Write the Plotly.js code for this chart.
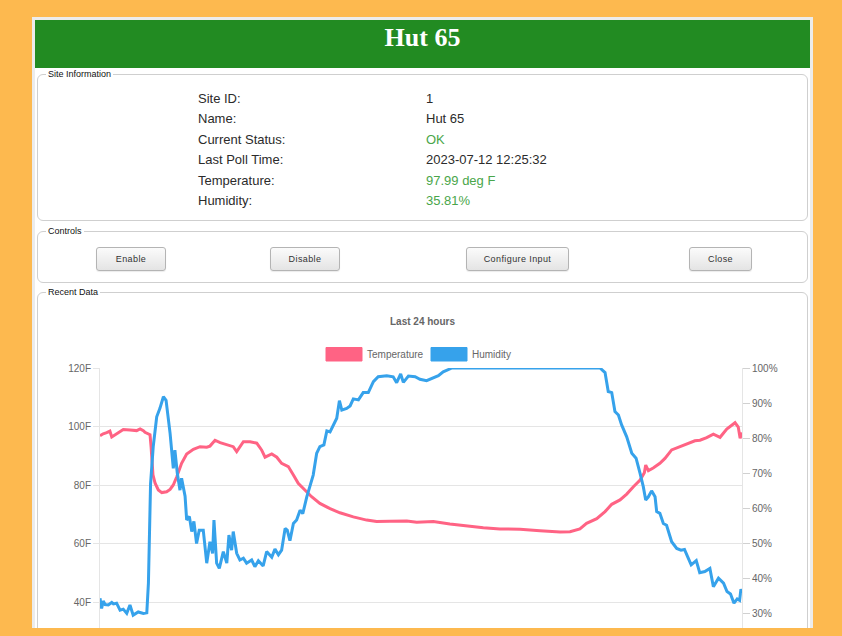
<!DOCTYPE html>
<html>
<head>
<meta charset="utf-8">
<script src="https://cdn.plot.ly/plotly-3.0.1.min.js"></script>
<style>
  html, body { margin:0; padding:0; }
  body { width:842px; height:636px; overflow:hidden; background:#fdb94f; position:relative;
         font-family:"Liberation Sans", Arial, sans-serif; }
  .abs { position:absolute; }
  #container { left:32px; top:17px; width:775px; height:700px; background:#fff; border:3px solid #ececec; }
  #header { left:35px; top:20px; width:775px; height:48px; background:#228b22; color:#fff;
            font-family:"Liberation Serif", "Times New Roman", serif; font-weight:bold; font-size:26px; line-height:35px; text-align:center; }
  .fs { border:1px solid #cfcfcf; border-radius:6px; background:#fff; box-sizing:border-box; }
  .lg { position:absolute; left:8px; top:-7px; background:#fff; padding:0 2px; font-size:9px; line-height:12px; color:#111; }
  .row { position:absolute; font-size:13px; height:20.4px; line-height:20.4px; color:#2b2b2b; white-space:nowrap; }
  .green { color:#4aa64a; }
  .btn { position:absolute; top:247px; height:24px; box-sizing:border-box; border:1px solid #b4b4b4; border-radius:3px;
         background:linear-gradient(#fbfbfb, #e4e4e4); box-shadow:0 1px 1px rgba(0,0,0,0.08);
         font-size:9px; line-height:22px; text-align:center; color:#333; letter-spacing:0.4px; }
  #chart { left:40px; top:300px; width:765px; height:460px; }
  #footer { left:0; top:628px; width:842px; height:8px; background:#fdb94f; z-index:10; }
</style>
</head>
<body>
<div id="container" class="abs"></div>
<div id="header" class="abs">Hut 65</div>

<div class="abs fs" style="left:37px; top:74px; width:771px; height:147px;"><span class="lg">Site Information</span></div>
<div id="info"></div>

<div class="abs fs" style="left:37px; top:231px; width:771px; height:52px;"><span class="lg">Controls</span></div>
<div class="btn" style="left:96px; width:70px;">Enable</div>
<div class="btn" style="left:270px; width:70px;">Disable</div>
<div class="btn" style="left:466px; width:103px;">Configure Input</div>
<div class="btn" style="left:689px; width:63px;">Close</div>

<div class="abs fs" style="left:37px; top:292px; width:771px; height:420px;"><span class="lg">Recent Data</span></div>
<div id="chart" class="abs"></div>
<div id="footer" class="abs"></div>

<script>
// ---- Site information ----
const infoLabels = ["Site ID:", "Name:", "Current Status:", "Last Poll Time:", "Temperature:", "Humidity:"];
const infoValues = ["1", "Hut 65", "OK", "2023-07-12 12:25:32", "97.99 deg F", "35.81%"];
const infoGreen  = [false, false, true, false, true, true];

// ---- Chart data (hours since start of the 24 h window) ----
const seriesNames = ["Temperature", "Humidity"];
const chartTitle = "Last 24 hours";

const tempHours = [
  0,0.12,0.25,0.37,0.44,0.62,0.87,1.12,1.37,1.50,
  1.62,1.68,1.77,1.87,1.91,1.98,2.06,2.18,2.31,2.49,
  2.62,2.74,2.87,3.05,3.24,3.49,3.74,3.99,4.11,4.30,
  4.49,4.74,4.98,5.11,5.23,5.36,5.61,5.86,6.04,6.17,
  6.42,6.61,6.79,7.04,7.23,7.41,7.66,7.91,8.22,8.60,
  8.97,9.47,9.97,10.34,10.84,11.47,11.84,12.46,13.08,13.71,
  14.33,14.95,15.70,16.45,17.20,17.57,17.94,18.19,18.57,18.88,
  19.13,19.44,19.69,19.94,20.19,20.35,20.40,20.50,20.68,20.93,
  21.12,21.37,21.68,21.93,22.24,22.43,22.68,22.93,23.18,23.43,
  23.74,23.86,23.93,24.00];
const tempF = [
  96.8,97.5,97.9,98.4,96.4,97.5,99.0,98.8,98.6,99.2,
  98.6,98.0,97.6,97.2,93.0,83.5,80.6,78.3,77.4,77.7,
  78.5,80.0,82.8,87.4,90.6,92.2,93.1,92.9,93.3,95.3,
  94.5,93.9,93.1,91.4,93.0,94.8,94.8,94.3,92.0,89.5,
  90.6,89.5,87.4,86.3,83.4,80.6,78.3,76.0,73.7,71.9,
  70.5,69.1,68.0,67.5,67.6,67.7,67.3,67.5,66.7,66.0,
  65.4,65.0,64.9,64.4,63.9,64.0,65.0,66.9,68.5,70.9,
  73.4,74.9,76.9,79.4,81.7,84.2,86.8,84.9,85.8,87.4,
  89.1,92.0,93.1,93.9,95.1,95.3,96.2,97.4,96.3,99.1,
  101.3,99.8,96.0,97.99];

const humHours = [
  0,0.06,0.12,0.19,0.31,0.44,0.50,0.62,0.75,0.87,
  1.00,1.12,1.24,1.43,1.62,1.75,1.81,1.89,1.99,2.12,
  2.24,2.37,2.47,2.62,2.74,2.80,2.89,2.99,3.05,3.18,
  3.24,3.34,3.43,3.51,3.61,3.71,3.86,3.99,4.11,4.21,
  4.26,4.36,4.46,4.61,4.74,4.82,4.92,4.98,5.11,5.23,
  5.36,5.48,5.67,5.79,5.92,6.10,6.23,6.42,6.54,6.67,
  6.79,6.92,7.00,7.10,7.23,7.35,7.48,7.58,7.73,7.85,
  7.97,8.10,8.22,8.37,8.48,8.60,8.72,8.85,8.95,9.04,
  9.22,9.35,9.47,9.66,9.84,10.03,10.22,10.40,10.72,10.96,
  11.09,11.24,11.34,11.53,11.78,11.96,12.21,12.46,12.65,12.83,
  13.02,13.16,18.69,18.88,19.00,19.13,19.25,19.38,19.50,19.69,
  19.88,20.04,20.19,20.31,20.40,20.50,20.62,20.75,20.81,20.93,
  21.06,21.18,21.37,21.56,21.72,21.85,21.97,22.10,22.29,22.42,
  22.61,22.80,22.93,23.12,23.31,23.44,23.57,23.70,23.82,23.91,
  23.96,24.00];
const humidityPct = [
  34.4,31.5,33.6,32.6,32.5,33.2,32.8,33.0,31.0,31.3,
  30.1,32.5,29.6,30.5,30.1,30.3,38.7,67.0,77.6,86.1,
  88.5,91.8,90.8,81.4,71.4,76.6,70.0,65.2,68.6,63.5,
  56.7,57.7,53.4,56.3,50.0,53.8,53.8,44.4,50.5,47.2,
  56.7,44.4,42.9,47.7,44.4,52.4,48.1,53.4,47.2,45.3,
  45.8,44.4,45.3,43.4,45.1,43.6,47.7,46.1,48.4,46.8,
  48.1,54.3,53.8,50.8,55.7,56.7,59.5,58.5,63.3,66.2,
  69.5,75.7,77.6,78.1,82.1,81.8,83.8,85.7,90.7,88.0,
  88.5,89.2,91.2,90.9,93.0,93.0,96.1,97.5,97.8,97.5,
  95.8,98.3,95.9,97.7,97.5,96.8,96.4,97.1,97.8,98.9,
  99.6,100,100,98.7,93.3,93.0,87.6,86.6,83.8,80.4,
  75.7,74.3,70.0,66.2,62.4,63.3,65.0,63.3,59.1,58.6,
  55.7,55.2,50.5,48.6,48.1,48.3,46.2,43.9,45.1,41.7,
  42.0,42.9,37.7,40.1,38.7,36.3,35.6,33.0,34.2,33.8,
  37.0,35.81];

// tick labels visible in the reference (lower ones fall below the page fold)
const tempTicks = [40, 60, 80, 100, 120];
const tempTickText = ["40F", "60F", "80F", "100F", "120F"];
const humTicks = [30, 40, 50, 60, 70, 80, 90, 100];
const humTickText = ["30%", "40%", "50%", "60%", "70%", "80%", "90%", "100%"];

// ---- info rows ----
const info = document.getElementById('info');
infoLabels.forEach((lab, i) => {
  const top = 89 + i * 20.4;
  const a = document.createElement('div');
  a.className = 'row'; a.style.left = '198px'; a.style.top = top + 'px'; a.textContent = lab;
  const b = document.createElement('div');
  b.className = 'row' + (infoGreen[i] ? ' green' : ''); b.style.left = '426px'; b.style.top = top + 'px'; b.textContent = infoValues[i];
  info.appendChild(a); info.appendChild(b);
});

// ---- chart ----
const W = 765, H = 460, M = {l:60, r:63, t:68, b:41};
const pw = W - M.l - M.r, ph = H - M.t - M.b;
const px2x = p => (p - M.l) / pw;          // div-local px -> paper x
const py2y = p => (H - M.b - p) / ph;      // div-local px -> paper y
const pink = '#ff6384', blue = '#36a2eb';
const grid = 'rgba(0,0,0,0.1)';

const traces = [
  {x: humHours, y: humidityPct, name: seriesNames[1], yaxis: 'y2', type: 'scatter', mode: 'lines',
   line: {color: blue, width: 3}, hoverinfo: 'skip'},
  {x: tempHours, y: tempF, name: seriesNames[0], yaxis: 'y', type: 'scatter', mode: 'lines',
   line: {color: pink, width: 3}, hoverinfo: 'skip'}
];

// legend drawn Chart.js-style (boxes + labels), positions in div px
const legendItems = [
  {box: [286, 322], textX: 325, color: pink, label: seriesNames[0]},
  {box: [391, 427], textX: 430, color: blue, label: seriesNames[1]}
];
const shapes = [], annotations = [];
legendItems.forEach(it => {
  shapes.push({type: 'rect', xref: 'paper', yref: 'paper',
    x0: px2x(it.box[0]), x1: px2x(it.box[1]), y0: py2y(61), y1: py2y(47.5),
    fillcolor: it.color, line: {color: it.color, width: 1}});
  annotations.push({xref: 'paper', yref: 'paper', x: px2x(it.textX), y: py2y(54),
    xanchor: 'left', yanchor: 'middle', showarrow: false, text: it.label,
    font: {size: 10, color: '#666'}});
});

const layout = {
  width: W, height: H, margin: M,
  paper_bgcolor: 'rgba(0,0,0,0)', plot_bgcolor: 'rgba(0,0,0,0)',
  showlegend: false,
  font: {family: '"Liberation Sans", Arial, sans-serif', size: 10, color: '#666'},
  title: {text: '<b>' + chartTitle + '</b>', font: {size: 10, color: '#666'},
          x: 0.5, xref: 'container', y: 1 - 21 / H, yref: 'container', yanchor: 'middle'},
  xaxis: {range: [0, 24], showgrid: false, zeroline: false, showticklabels: false,
          ticks: '', showline: false, fixedrange: true},
  yaxis: {range: [0, 120], tickvals: tempTicks, ticktext: tempTickText,
          showgrid: true, gridcolor: grid, gridwidth: 1, zeroline: false,
          showline: true, linecolor: grid, linewidth: 1,
          ticks: 'outside', ticklen: 6, tickcolor: grid, fixedrange: true},
  yaxis2: {range: [0, 100], tickvals: humTicks, ticktext: humTickText,
           overlaying: 'y', side: 'right', showgrid: false, zeroline: false,
           showline: true, linecolor: grid, linewidth: 1,
           ticks: 'outside', ticklen: 7, tickcolor: 'rgba(0,0,0,0.18)', fixedrange: true},
  shapes: shapes, annotations: annotations
};

Plotly.newPlot('chart', traces, layout, {displayModeBar: false, staticPlot: true});
</script>
</body>
</html>
